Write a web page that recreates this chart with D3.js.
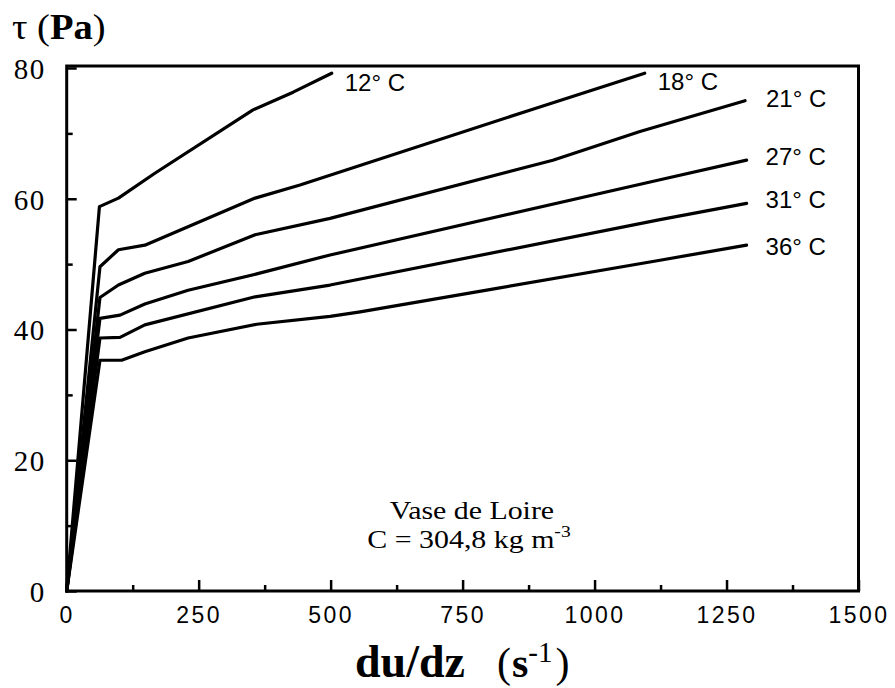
<!DOCTYPE html>
<html>
<head>
<meta charset="utf-8">
<script src="https://cdn.jsdelivr.net/npm/d3@7"></script>
<style>
  html, body { margin: 0; padding: 0; background: #fff; }
  svg { display: block; }
</style>
</head>
<body>
<svg id="chart" width="895" height="688"></svg>
<script>
// Flow curves of Loire mud: shear stress vs shear rate at several temperatures
const temperatures = ["12° C", "18° C", "21° C", "27° C", "31° C", "36° C"];

const rate12 = [0, 62, 98, 167, 353, 429, 502];
const tau12  = [0, 58.8, 60.1, 63.9, 73.6, 76.3, 79.2];

const rate18 = [0, 63, 98, 148, 357, 442, 883, 1095];
const tau18  = [0, 49.6, 52.2, 52.9, 60.1, 62.1, 73.7, 79.2];

const rate21 = [0, 63, 98, 148, 230, 357, 499, 921, 1086, 1285];
const tau21  = [0, 44.9, 46.8, 48.6, 50.4, 54.5, 57.0, 65.9, 70.3, 75.0];

const rate27 = [0, 63, 101, 148, 230, 360, 499, 1124, 1288];
const tau27  = [0, 41.7, 42.2, 43.9, 46.0, 48.5, 51.4, 62.9, 65.9];

const rate31 = [0, 63, 101, 148, 357, 499, 1124, 1288];
const tau31  = [0, 38.7, 38.8, 40.7, 45.0, 46.8, 56.8, 59.3];

const rate36 = [0, 63, 104, 148, 230, 360, 499, 556, 815, 1124, 1288];
const tau36  = [0, 35.3, 35.3, 36.6, 38.7, 40.8, 42.0, 42.7, 46.3, 50.6, 52.9];

const xTicksMajor = [0, 250, 500, 750, 1000, 1250, 1500];
const xTicksMinor = [125, 375, 625, 875, 1125, 1375];
const yTicksMajor = [0, 20, 40, 60, 80];
const yTicksMinor = [10, 30, 50, 70];

const seriesRates = [rate12, rate18, rate21, rate27, rate31, rate36];
const seriesTaus  = [tau12, tau18, tau21, tau27, tau31, tau36];

// label offsets (px) from each curve's last point
const labelOffsets = [[13, 18], [13, 17], [21, 6], [19, 5], [19, 5], [19, 10]];

const svg = d3.select("#chart");
const x = d3.scaleLinear().domain([0, 1500]).range([66.7, 858.5]);
const y = d3.scaleLinear().domain([0, 80]).range([591, 68]);

const sans = "'Liberation Sans', Arial, Helvetica, sans-serif";
const serif = "'Liberation Serif', 'Times New Roman', Times, serif";

// frame
svg.append("rect")
  .attr("x", x(0)).attr("y", y(80) - 2)
  .attr("width", x(1500) - x(0)).attr("height", y(0) - y(80) + 2)
  .attr("fill", "none").attr("stroke", "#000").attr("stroke-width", 3);

// x axis: inward ticks
const gx = svg.append("g").attr("transform", `translate(0,${y(0)})`);
gx.call(d3.axisBottom(x).tickValues(xTicksMajor).tickSize(-11).tickFormat(d3.format("d")));
gx.select(".domain").remove();
gx.selectAll(".tick line").attr("stroke-width", 2.5);
gx.selectAll(".tick text")
  .attr("y", 32).attr("dy", 0)
  .attr("font-family", sans).attr("font-size", 23)
  .attr("letter-spacing", 2.5)
  .attr("fill", "#000");
const gxm = svg.append("g").attr("transform", `translate(0,${y(0)})`);
gxm.call(d3.axisBottom(x).tickValues(xTicksMinor).tickSize(-6).tickFormat(""));
gxm.select(".domain").remove();
gxm.selectAll(".tick line").attr("stroke-width", 2.5);

// y axis: inward ticks
const gy = svg.append("g").attr("transform", `translate(${x(0)},0)`);
gy.call(d3.axisLeft(y).tickValues(yTicksMajor).tickSize(-10).tickFormat(d3.format("d")));
gy.select(".domain").remove();
gy.selectAll(".tick line").attr("stroke-width", 2.5);
gy.selectAll(".tick text")
  .attr("x", -21).attr("dy", "0.36em")
  .attr("font-family", serif).attr("font-size", 29)
  .attr("letter-spacing", 1.5)
  .attr("fill", "#000");
const gym = svg.append("g").attr("transform", `translate(${x(0)},0)`);
gym.call(d3.axisLeft(y).tickValues(yTicksMinor).tickSize(-6).tickFormat(""));
gym.select(".domain").remove();
gym.selectAll(".tick line").attr("stroke-width", 2.5);

// curves
const line = d3.line().x(d => x(d[0])).y(d => y(d[1])).curve(d3.curveLinear);
seriesRates.forEach((rates, i) => {
  const pts = rates.map((r, k) => [r, seriesTaus[i][k]]);
  svg.append("path")
    .attr("d", line(pts))
    .attr("fill", "none")
    .attr("stroke", "#000")
    .attr("stroke-width", 3.2)
    .attr("stroke-linejoin", "round")
    .attr("stroke-linecap", "round");
  const last = pts[pts.length - 1];
  svg.append("text")
    .attr("x", x(last[0]) + labelOffsets[i][0])
    .attr("y", y(last[1]) + labelOffsets[i][1])
    .attr("font-family", sans).attr("font-size", 24)
    .attr("fill", "#000")
    .text(temperatures[i]);
});

// y axis title
const yt = svg.append("text")
  .attr("transform", "translate(12,39) scale(1.1,1)")
  .attr("font-family", serif).attr("font-size", 35).attr("fill", "#000");
yt.append("tspan").text("τ (");
yt.append("tspan").attr("font-weight", "bold").text("Pa");
yt.append("tspan").text(")");

// x axis title
svg.append("text")
  .attr("x", 355).attr("y", 677)
  .attr("font-family", serif).attr("font-size", 46).attr("font-weight", "bold")
  .attr("fill", "#000")
  .text("du/dz");
const xt = svg.append("text")
  .attr("x", 497).attr("y", 677)
  .attr("font-family", serif).attr("font-size", 42).attr("fill", "#000");
xt.append("tspan").text("(");
xt.append("tspan").attr("font-weight", "bold").attr("dx", 1).text("s");
xt.append("tspan").attr("font-size", 29).attr("dy", -15).text("-1");
xt.append("tspan").attr("dy", 15).attr("dx", 3).text(")");

// sample annotation
const note = svg.append("g").attr("font-family", serif).attr("font-size", 26).attr("fill", "#000");
note.append("text")
  .attr("transform", "translate(472,519) scale(1.15,1)")
  .attr("text-anchor", "middle")
  .text("Vase de Loire");
const c = note.append("text")
  .attr("transform", "translate(469,548) scale(1.15,1)")
  .attr("text-anchor", "middle");
c.append("tspan").text("C = 304,8 kg m");
c.append("tspan").attr("font-size", 17).attr("dy", -11).text("-3");
</script>
</body>
</html>
